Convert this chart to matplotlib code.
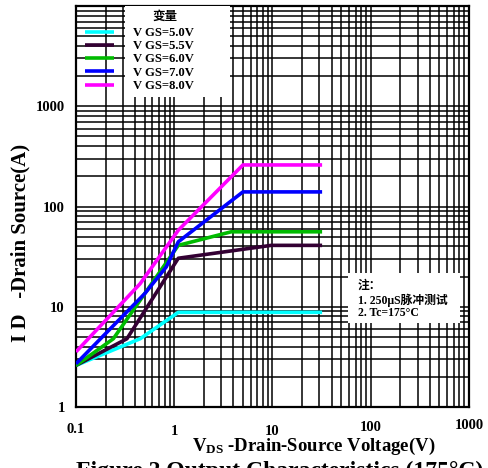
import matplotlib
matplotlib.use("Agg")
import matplotlib.pyplot as plt
from matplotlib.patches import Rectangle

plt.rcParams['font.family'] = ['Liberation Serif', 'Noto Sans CJK SC']
plt.rcParams['font.weight'] = 'bold'
plt.rcParams['mathtext.fontset'] = 'custom'
plt.rcParams['mathtext.rm'] = 'Liberation Serif:bold'
plt.rcParams['mathtext.it'] = 'Liberation Serif:bold'

# output characteristics at 175C
vds_50 = [0.1, 0.45, 1.1, 32]
id_50 = [2.6, 4.8, 8.8, 8.8]

vds_55 = [0.1, 0.33, 1.1, 9.7, 32]
id_55 = [2.6, 4.8, 30.5, 41, 41]

vds_60 = [0.1, 0.24, 1.1, 3.8, 32]
id_60 = [2.6, 4.8, 41, 56, 56]

vds_70 = [0.1, 0.5, 0.83, 1.1, 5.0, 32]
id_70 = [2.7, 13.5, 25, 44.5, 140, 140]

vds_80 = [0.1, 0.45, 1.1, 5.0, 32]
id_80 = [3.55, 17, 58, 260, 260]

labels = ["V GS=5.0V", "V GS=5.5V", "V GS=6.0V", "V GS=7.0V", "V GS=8.0V"]
colors = ["#00ffff", "#330033", "#00bb00", "#0000ff", "#ff00ff"]

xticks = [0.1, 1, 10, 100, 1000]
xtick_labels = ["0.1", "1", "10", "100", "1000"]
yticks = [1, 10, 100, 1000]
ytick_labels = ["1", "10", "100", "1000"]

fig = plt.figure(figsize=(4.88, 4.68), dpi=100)
ax = fig.add_axes([0.1557, 0.1303, 0.8053, 0.8567])

curves = [(vds_50, id_50), (vds_55, id_55), (vds_60, id_60), (vds_70, id_70), (vds_80, id_80)]
for (x, y), c, lab in zip(curves, colors, labels):
    ax.plot(x, y, color=c, lw=2.6, label=lab, solid_capstyle='butt', zorder=4)

ax.set_xscale('log')
ax.set_yscale('log')
ax.set_xlim(0.1, 1000)
ax.set_ylim(1, 10000)

ax.grid(True, which='both', color='black', lw=1.1)
ax.tick_params(which='both', length=0)
ax.set_xticks(xticks)
ax.set_xticklabels([])
ax.set_xticks([v * k for v in [0.1, 1, 10, 100] for k in range(2, 10)], minor=True)
ax.set_xticklabels([], minor=True)
ax.set_yticks(yticks)
ax.set_yticklabels(ytick_labels, fontsize=10.5, fontweight='bold')
ax.set_yticks([v * k for v in [1, 10, 100, 1000] for k in range(2, 10)], minor=True)
ax.set_yticklabels([], minor=True)
ax.tick_params(axis='y', pad=8)
for s in ax.spines.values():
    s.set_linewidth(1.6)

# x tick labels sit at slightly different heights in the original
xlab_y = [-0.057, -0.062, -0.061, -0.050, -0.045]
for v, t, yy in zip(xticks, xtick_labels, xlab_y):
    ax.text(v, yy, t, transform=ax.get_xaxis_transform(), ha='center', va='center',
            fontsize=10.5, fontweight='bold')

# white area behind legend text and notes
ax.add_patch(Rectangle((0.125, 0.773), 0.267, 0.227, transform=ax.transAxes,
                       facecolor='white', edgecolor='none', zorder=3))
ax.add_patch(Rectangle((0.692, 0.209), 0.285, 0.125, transform=ax.transAxes,
                       facecolor='white', edgecolor='none', zorder=3))

leg = ax.legend(loc='upper left', bbox_to_anchor=(0.0, 0.97), frameon=False,
                fontsize=9.1, handlelength=2.3, handletextpad=1.5, labelspacing=0.1,
                borderaxespad=0.3)
leg.set_zorder(6)
ax.text(0.227, 0.973, "变量", transform=ax.transAxes, ha='center', va='center',
        fontsize=9, zorder=6)

ax.text(0.717, 0.303, "注：", transform=ax.transAxes, ha='left', va='center',
        fontsize=8.5, zorder=6)
ax.text(0.717, 0.267, "1. 250μS脉冲测试", transform=ax.transAxes, ha='left', va='center',
        fontsize=8.5, zorder=6)
ax.text(0.717, 0.234, "2. Tc=175°C", transform=ax.transAxes, ha='left', va='center',
        fontsize=8.5, zorder=6)

fig.text(0.041, 0.48, "I D   -Drain Source(A)", rotation=90, ha='center', va='center',
         fontsize=15, fontweight='bold')
fig.text(0.642, 0.047, r"V$_{\mathrm{DS}}$ -Drain-Source Voltage(V)", ha='center', va='center',
         fontsize=13.5, fontweight='bold')
fig.text(0.574, 0.015, "Figure 2 Output Characteristics (175°C)", ha='center', va='top',
         fontsize=17, fontweight='bold')

fig.savefig("out.png", dpi=100)
